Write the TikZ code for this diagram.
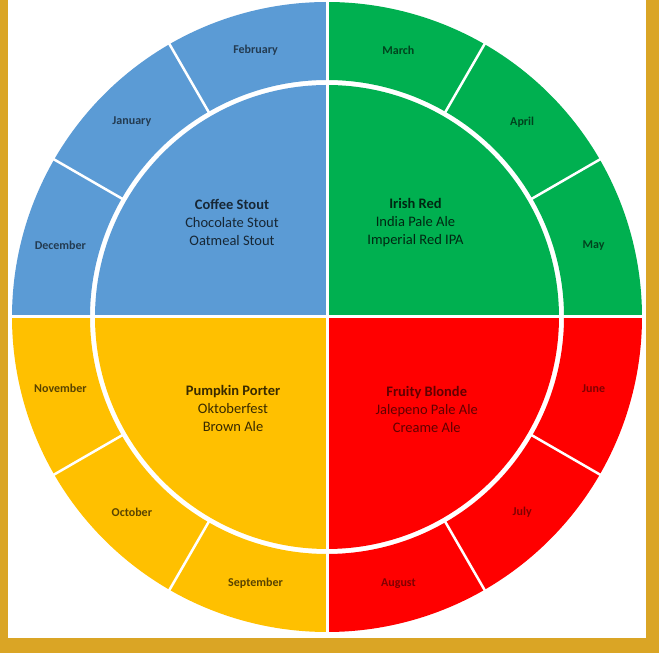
\documentclass[tikz,border=0pt]{standalone}
\usepackage{fontspec}
\setmainfont{Carlito}
\usetikzlibrary{calc}
\definecolor{qblue}{RGB}{91,155,213}
\definecolor{qgreen}{RGB}{0,176,80}
\definecolor{qyellow}{RGB}{255,192,0}
\definecolor{qred}{RGB}{255,0,0}
\definecolor{gold}{RGB}{218,165,37}
\tikzset{
  ctext/.style={align=center,font=\fontsize{14.5}{18}\selectfont,inner sep=0pt},
  mlabel/.style={font=\fontsize{12}{14}\selectfont\bfseries,inner sep=0pt},
  sep/.style={white,line width=2.5pt},
}
\begin{document}
\begin{tikzpicture}[x=1pt,y=1pt]
\useasboundingbox (0,0) rectangle (659,653);
\fill[white] (0,0) rectangle (659,653);
\coordinate (c) at (327,336);
% inner quadrants
\foreach \a/\col in {90/qblue,0/qgreen,270/qred,180/qyellow}
  \fill[\col] (c) -- ++(\a:232) arc[start angle=\a,delta angle=90,radius=232] -- cycle;
% outer month segments
\foreach \a/\col in {90/qblue,120/qblue,150/qblue,0/qgreen,30/qgreen,60/qgreen,
                     270/qred,300/qred,330/qred,180/qyellow,210/qyellow,240/qyellow}
  \fill[\col] ($(c)+(\a:237)$) arc[start angle=\a,delta angle=30,radius=237]
     -- ($(c)+(\a+30:315)$) arc[start angle=\a+30,delta angle=-30,radius=315] -- cycle;
% separators
\draw[white,line width=3pt] ($(c)+(180:316)$) -- ($(c)+(0:316)$);
\draw[white,line width=3pt] ($(c)+(90:316)$) -- ($(c)+(270:316)$);
\foreach \a in {30,60,120,150,210,240,300,330}
  \draw[sep] ($(c)+(\a:236)$) -- ($(c)+(\a:316)$);
% gold frame
\fill[gold] (0,0) rectangle (8.3,653);
\fill[gold] (646,0) rectangle (659,653);
\fill[gold] (0,0) rectangle (659,15);
% centre texts
\node[ctext,text=black!75!qblue] (coffee) at (232,430.5) {\textbf{Coffee Stout}\\Chocolate Stout\\Oatmeal Stout};
\node[ctext,text=black!78!qgreen] (irish) at (415.5,430.3) {\textbf{Irish Red}\\India Pale Ale\\Imperial Red IPA};
\node[ctext,text=black!78!qyellow] (pumpkin) at (233,244.5) {\textbf{Pumpkin Porter}\\Oktoberfest\\Brown Ale};
\node[ctext,text=black!62!qred] (fruity) at (426.7,243.7) {\textbf{Fruity Blonde}\\Jalepeno Pale Ale\\Creame Ale};
% month labels
\node[mlabel,text=black!62!qblue] (feb) at ($(c)+(105:276)$) {February};
\node[mlabel,text=black!62!qblue] (jan) at ($(c)+(135:276)$) {January};
\node[mlabel,text=black!62!qblue] (dec) at ($(c)+(165:276)$) {December};
\node[mlabel,text=black!62!qgreen] (mar) at ($(c)+(75:276)$) {March};
\node[mlabel,text=black!62!qgreen] (apr) at ($(c)+(45:276)$) {April};
\node[mlabel,text=black!62!qgreen] (may) at ($(c)+(15:276)$) {May};
\node[mlabel,text=black!50!qred] (jun) at ($(c)+(-15:276)$) {June};
\node[mlabel,text=black!50!qred] (jul) at ($(c)+(-45:276)$) {July};
\node[mlabel,text=black!50!qred] (aug) at ($(c)+(-75:276)$) {August};
\node[mlabel,text=black!65!qyellow] (sep) at ($(c)+(-105:276)$) {September};
\node[mlabel,text=black!65!qyellow] (oct) at ($(c)+(-135:276)$) {October};
\node[mlabel,text=black!65!qyellow] (nov) at ($(c)+(-165:276)$) {November};
\end{tikzpicture}
\end{document}
